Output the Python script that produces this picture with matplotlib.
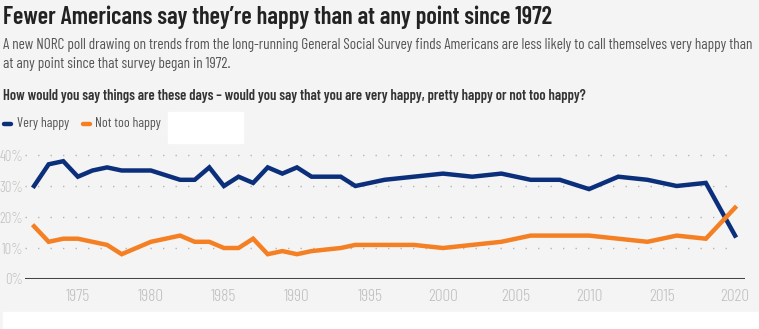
import matplotlib.pyplot as plt
from matplotlib.lines import Line2D
from matplotlib.patches import Rectangle

years = [1972, 1973, 1974, 1975, 1976, 1977, 1978, 1980, 1982, 1983, 1984,
         1985, 1986, 1987, 1988, 1989, 1990, 1991, 1993, 1994, 1996, 1998,
         2000, 2002, 2004, 2006, 2008, 2010, 2012, 2014, 2016, 2018, 2020]
very_happy = [30, 37, 38, 33, 35, 36, 35, 35, 32, 32, 36,
              30, 33, 31, 36, 34, 36, 33, 33, 30, 32, 33,
              34, 33, 34, 32, 32, 29, 33, 32, 30, 31, 14]
not_too_happy = [17, 12, 13, 13, 12, 11, 8, 12, 14, 12, 12,
                 10, 10, 13, 8, 9, 8, 9, 10, 11, 11, 11,
                 10, 11, 12, 14, 14, 14, 13, 12, 14, 13, 23]
yticks = [0, 10, 20, 30, 40]
xticks = [1975, 1980, 1985, 1990, 1995, 2000, 2005, 2010, 2015, 2020]

title = "Fewer Americans say they\u2019re happy than at any point since 1972"
sub1 = ("A new NORC poll drawing on trends from the long-running General Social Survey "
        "finds Americans are less likely to call themselves very happy than")
sub2 = "at any point since that survey began in 1972."
question = ("How would you say things are these days \u2013 would you say that you are "
            "very happy, pretty happy or not too happy?")

BLUE = "#0b2f7b"
ORANGE = "#f58024"
BG = "#f4f4f4"

plt.rcParams['font.family'] = ['Barlow Condensed', 'DejaVu Sans']

fig = plt.figure(figsize=(7.59, 3.29), dpi=100)
fig.patch.set_facecolor(BG)
W, H = 759, 329

def fx(px):
    return px / W

def fy(py):
    return 1 - py / H

ax = fig.add_axes([fx(25), fy(279), fx(720), fy(148.8) - fy(279)])
ax.set_facecolor(BG)
ax.plot(years, very_happy, color=BLUE, lw=3.2, solid_joinstyle='miter', zorder=3)
ax.plot(years, not_too_happy, color=ORANGE, lw=3.2, solid_joinstyle='miter', zorder=3)

ax.set_xlim(1971.38, 2020.68)
ax.set_ylim(0, 42)
ax.set_yticks(yticks)
ax.set_yticklabels([f"{v}%" for v in yticks])
ax.set_xticks(xticks)
for v in yticks[1:]:
    ax.axhline(v, xmin=0, xmax=0.985, color="#b5b5b5", lw=1,
               linestyle=(0, (1, 8)), zorder=1)
ax.axhline(0, color="#444444", lw=2.2, zorder=2)
for s in ax.spines.values():
    s.set_visible(False)
ax.tick_params(axis='both', length=0, labelcolor="#c0c0c0")
ax.tick_params(axis='y', pad=1.5, labelsize=10.5)
ax.tick_params(axis='x', pad=7, labelsize=12.5)
for lab in ax.get_yticklabels() + ax.get_xticklabels():
    lab.set_fontweight(300)

fig.text(fx(3), fy(17), title, fontsize=17.5, fontweight=600, color="#222222",
         va='center', ha='left')
fig.text(fx(3), fy(45), sub1, fontsize=11, fontweight=400, color="#555555",
         va='center', ha='left')
fig.text(fx(3), fy(64), sub2, fontsize=11, fontweight=400, color="#555555",
         va='center', ha='left')
fig.text(fx(3), fy(96), question, fontsize=10.5, fontweight=600, color="#333333",
         va='center', ha='left')

# legend
fig.add_artist(Line2D([fx(4), fx(11)], [fy(124), fy(124)], color=BLUE, lw=3.2,
                      solid_capstyle='round', transform=fig.transFigure))
fig.text(fx(17), fy(124), "Very happy", fontsize=10, color="#555555", va='center')
fig.add_artist(Line2D([fx(83), fx(90)], [fy(124), fy(124)], color=ORANGE, lw=3.2,
                      solid_capstyle='round', transform=fig.transFigure))
fig.text(fx(95), fy(124), "Not too happy", fontsize=10, color="#555555", va='center')
fig.add_artist(Rectangle((fx(168), fy(143)), fx(75), fy(112) - fy(143),
                         transform=fig.transFigure, color="white", zorder=0))

# white strip at bottom
fig.add_artist(Rectangle((fx(3), 0), fx(756), fy(312), transform=fig.transFigure,
                         color="white", zorder=0))

fig.savefig("out.png", dpi=100, facecolor=BG)
